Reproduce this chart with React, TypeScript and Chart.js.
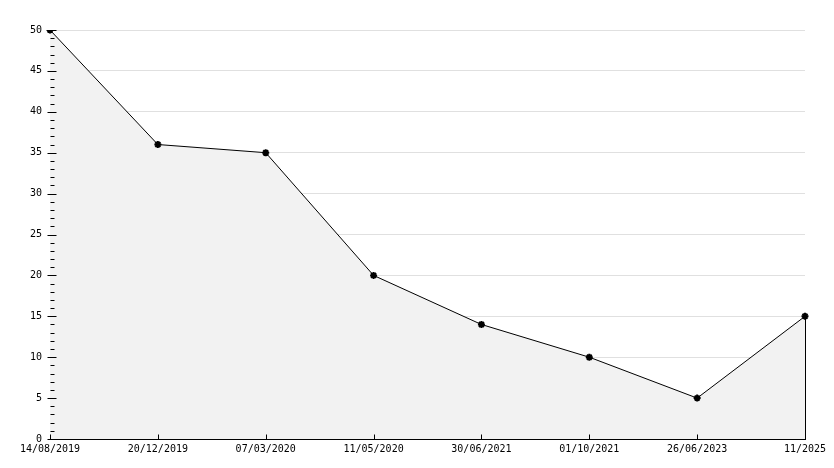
import React, { useEffect, useRef } from "react";
import { Chart, registerables } from "chart.js";

Chart.register(...registerables);

const categories = [
  "14/08/2019",
  "20/12/2019",
  "07/03/2020",
  "11/05/2020",
  "30/06/2021",
  "01/10/2021",
  "26/06/2023",
  "11/2025",
];
const values = [50, 36, 35, 20, 14, 10, 5, 15];
const yMin = 0;
const yMax = 50;
const yStep = 5;
const yMinorStep = 1;

const FONT = { family: "'DejaVu Sans Mono', monospace", size: 10 };

const decorPlugin = {
  id: "decor",
  afterDatasetsDraw(chart: any) {
    const ctx = chart.ctx;
    const y = chart.scales.y;
    const x = chart.scales.x;
    const area = chart.chartArea;
    ctx.save();
    ctx.strokeStyle = "#000";
    ctx.lineWidth = 1;
    const left = Math.round(area.left) + 0.5;
    for (let v = yMin; v <= yMax; v += yMinorStep) {
      const py = Math.round(y.getPixelForValue(v)) + 0.5;
      const major = v % yStep === 0;
      ctx.beginPath();
      ctx.moveTo(left - (major ? 3 : 0), py);
      ctx.lineTo(left + (major ? 6 : 4), py);
      ctx.stroke();
    }
    const bottom = Math.round(area.bottom) + 0.5;
    categories.forEach((_, i) => {
      const px = Math.round(x.getPixelForValue(i)) + 0.5;
      ctx.beginPath();
      ctx.moveTo(px, bottom);
      ctx.lineTo(px, bottom - 5);
      ctx.stroke();
    });
    const meta = chart.getDatasetMeta(0);
    const last = meta.data[meta.data.length - 1];
    if (last) {
      const px = Math.round(last.x) + 0.5;
      ctx.beginPath();
      ctx.moveTo(px, last.y);
      ctx.lineTo(px, bottom);
      ctx.stroke();
    }
    ctx.restore();
  },
};

export default function App() {
  const ref = useRef<HTMLCanvasElement>(null);
  useEffect(() => {
    if (!ref.current) return;
    const chart = new Chart(ref.current, {
      type: "line",
      data: {
        labels: categories,
        datasets: [
          {
            data: values,
            borderColor: "#000",
            borderWidth: 1,
            backgroundColor: "#f2f2f2",
            fill: "origin",
            tension: 0,
            pointStyle: "star",
            pointRadius: 3.5,
            pointBorderWidth: 2,
            pointBorderColor: "#000",
            pointBackgroundColor: "#000",
          },
        ],
      },
      options: {
        animation: false,
        responsive: true,
        maintainAspectRatio: false,
        layout: { padding: { top: 30, right: 29, left: 0, bottom: 0 } },
        plugins: {
          legend: { display: false },
          tooltip: { enabled: false },
        },
        scales: {
          x: {
            type: "category",
            offset: false,
            grid: { display: false, drawTicks: false },
            border: { display: true, color: "#000", width: 1 },
            ticks: {
              color: "#000",
              font: FONT,
              padding: 4,
              maxRotation: 0,
              autoSkip: false,
            },
            afterFit(scale: any) {
              scale.height = 29;
            },
          },
          y: {
            min: yMin,
            max: yMax,
            grid: { color: "#e0e0e0", drawTicks: false, lineWidth: 1 },
            border: { display: true, color: "#000", width: 1 },
            ticks: {
              stepSize: yStep,
              color: "#000",
              font: FONT,
              padding: 8,
            },
            afterFit(scale: any) {
              scale.width = 50;
            },
          },
        },
      },
      plugins: [decorPlugin],
    });
    return () => chart.destroy();
  }, []);
  return (
    <div style={{ position: "fixed", left: 0, top: 0, width: 834, height: 468, background: "#fff" }}>
      <canvas ref={ref} />
    </div>
  );
}
